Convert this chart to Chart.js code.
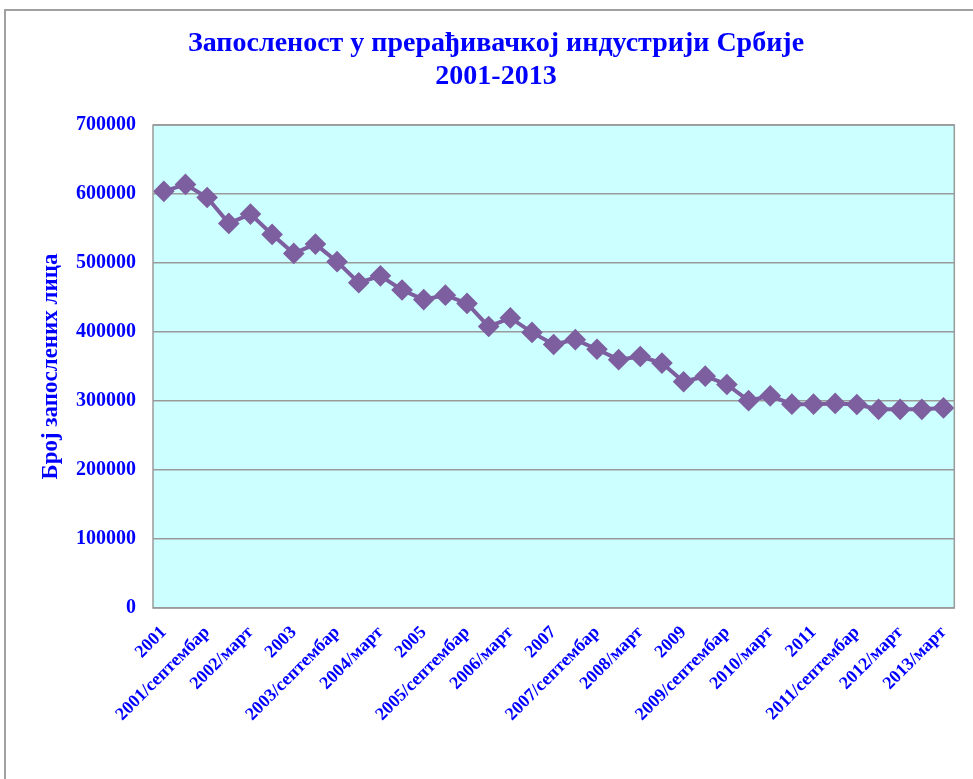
<!DOCTYPE html>
<html>
<head>
<meta charset="utf-8">
<script src="https://cdn.jsdelivr.net/npm/chart.js@4.4.0/dist/chart.umd.min.js"></script>
<style>
    body { margin: 0; background: #ffffff; overflow: hidden; }
    #frame {
        position: absolute; left: 4px; top: 9px; width: 1100px; height: 900px;
        border: 2px solid #a0a0a0;
    }
    #wrap { position: absolute; left: 0; top: 0; width: 973px; height: 779px; }
</style>
</head>
<body>
<div id="frame"></div>
<div id="wrap"><canvas id="employmentChart"></canvas></div>
<script>
// periods (labels shown on every second category, like the original)
const periods = [
    '2001', '2001/март', '2001/септембар',
    '2002', '2002/март', '2002/септембар',
    '2003', '2003/март', '2003/септембар',
    '2004', '2004/март', '2004/септембар',
    '2005', '2005/март', '2005/септембар',
    '2006', '2006/март', '2006/септембар',
    '2007', '2007/март', '2007/септембар',
    '2008', '2008/март', '2008/септембар',
    '2009', '2009/март', '2009/септембар',
    '2010', '2010/март', '2010/септембар',
    '2011', '2011/март', '2011/септембар',
    '2012', '2012/март',
    '2013', '2013/март'
];

// number of employed persons
const employed = [
    604000, 614000, 595000,
    557500, 571000, 541500,
    514000, 527500, 502000,
    471500, 481500, 461000,
    447000, 453500, 441500,
    408000, 420500, 399500,
    382000, 389000, 375000,
    360000, 364500, 355000,
    328000, 336000, 324000,
    300500, 307500, 295500,
    295500, 296500, 295000,
    288000, 288000,
    288000, 290000
];

const yTicks = [0, 100000, 200000, 300000, 400000, 500000, 600000, 700000];

const blue = '#0000FF';
const serif = "'Liberation Serif', 'Times New Roman', serif";

// light cyan plot background with a grey border
const plotBackground = {
    id: 'plotBackground',
    beforeDraw(chart) {
        const { ctx, chartArea: a } = chart;
        ctx.save();
        ctx.fillStyle = '#CCFFFF';
        ctx.fillRect(a.left, a.top, a.right - a.left, a.bottom - a.top);
        ctx.restore();
    },
    afterDatasetsDraw(chart) {
        const { ctx, chartArea: a } = chart;
        ctx.save();
        ctx.strokeStyle = '#9a9a9a';
        ctx.lineWidth = 1.5;
        ctx.strokeRect(a.left, a.top, a.right - a.left, a.bottom - a.top);
        ctx.restore();
    }
};

const ctx = document.getElementById('employmentChart').getContext('2d');

new Chart(ctx, {
    type: 'line',
    data: {
        labels: periods,
        datasets: [{
            label: 'Број запослених лица',
            data: employed,
            borderColor: '#7D5FA0',
            backgroundColor: '#7D5FA0',
            borderWidth: 4,
            pointStyle: 'rectRot',
            pointRadius: 8,
            pointHoverRadius: 8,
            fill: false,
            tension: 0
        }]
    },
    options: {
        responsive: true,
        maintainAspectRatio: false,
        animation: false,
        layout: {
            padding: { left: 37, right: 18, top: 0, bottom: 0 }
        },
        plugins: {
            legend: { display: false },
            tooltip: { enabled: false },
            title: {
                display: true,
                text: ['Запосленост у прерађивачкој индустрији Србије', '2001-2013'],
                color: blue,
                font: { family: serif, size: 28, weight: 'bold', lineHeight: 1.18 },
                padding: { top: 27, bottom: 32 }
            }
        },
        scales: {
            x: {
                offset: true,
                grid: { display: false, drawTicks: false },
                border: { display: false },
                afterFit: function(scale) { scale.height = 171; },
                ticks: {
                    autoSkip: false,
                    maxRotation: 45,
                    minRotation: 45,
                    padding: 14,
                    color: blue,
                    font: { family: serif, size: 18, weight: 'bold' },
                    callback: function(value, index) {
                        return index % 2 === 0 ? this.getLabelForValue(value) : '';
                    }
                }
            },
            y: {
                min: 0,
                max: 700000,
                afterFit: function(scale) { scale.width = 116; },
                afterBuildTicks: function(scale) {
                    scale.ticks = yTicks.map(v => ({ value: v }));
                },
                grid: { color: '#9a9a9a', lineWidth: 1.5, drawTicks: false },
                border: { display: false },
                title: {
                    display: true,
                    text: 'Број запослених лица',
                    color: blue,
                    font: { family: serif, size: 23, weight: 'bold' },
                    padding: 0
                },
                ticks: {
                    padding: 17,
                    color: blue,
                    font: { family: serif, size: 20, weight: 'bold' },
                    callback: function(value) { return String(value); }
                }
            }
        }
    },
    plugins: [plotBackground]
});
</script>
</body>
</html>
